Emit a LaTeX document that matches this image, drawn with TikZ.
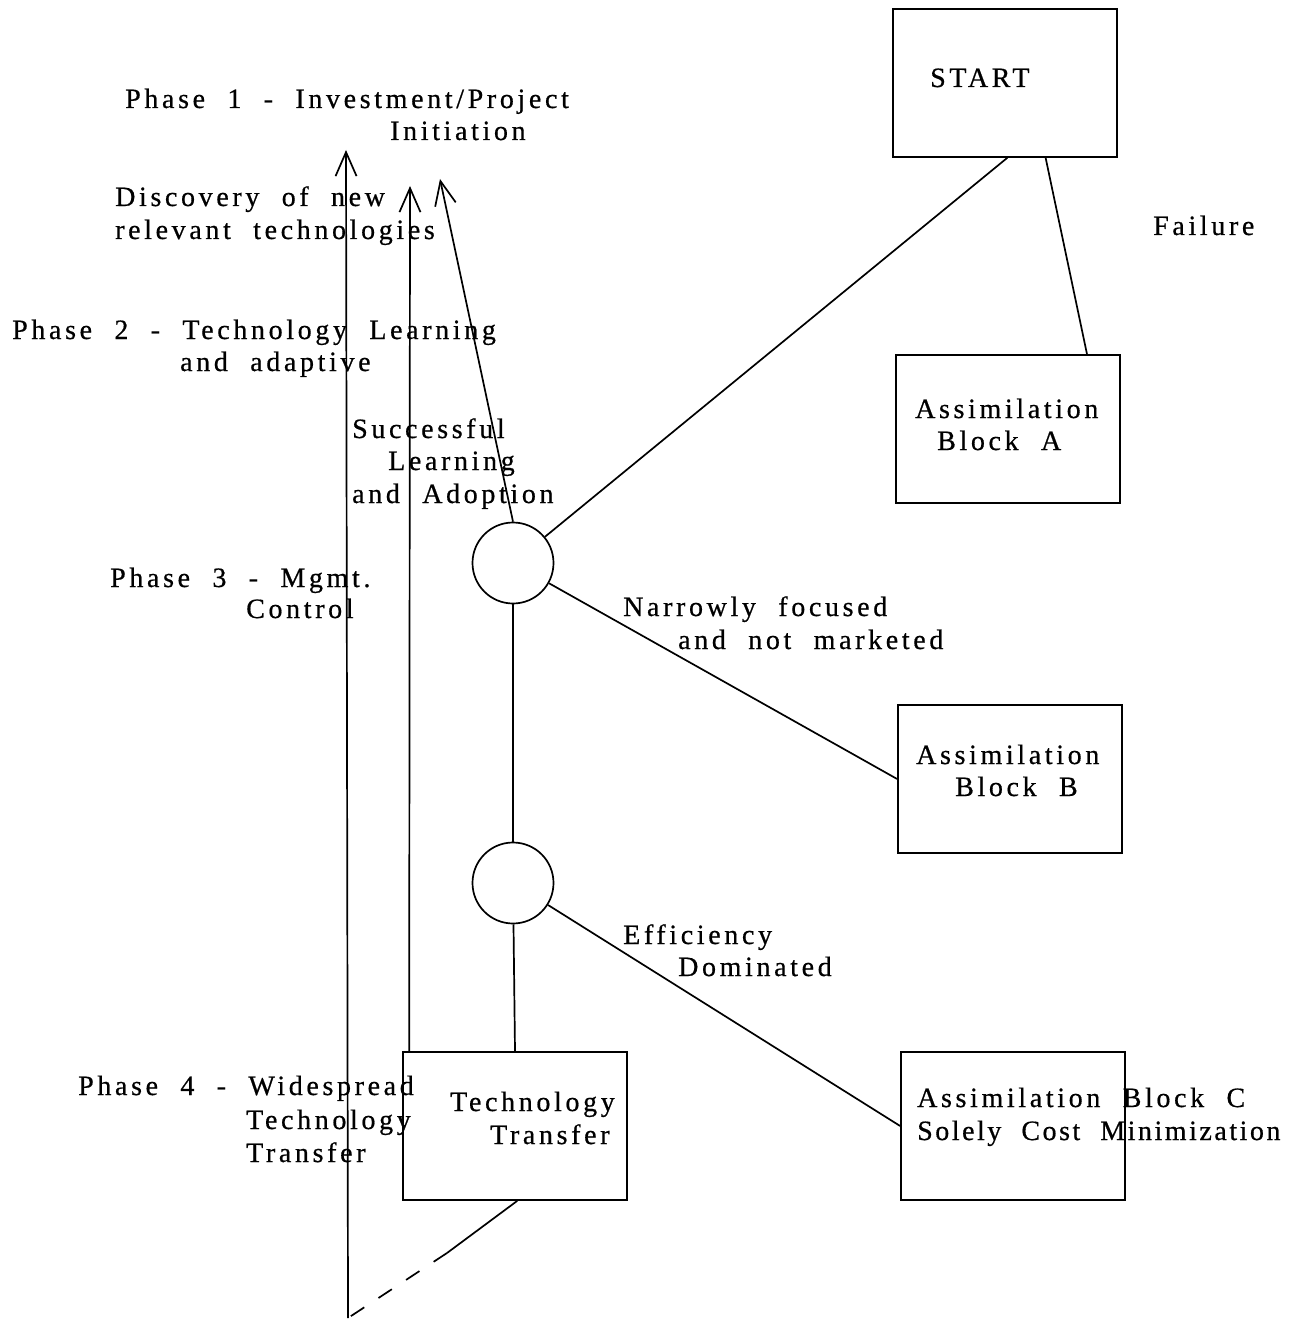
\documentclass[tikz,border=0pt]{standalone}
\usepackage{fontspec}
\setmainfont{Liberation Serif}[LetterSpace=13,WordSpace=2.1,FakeBold=0.6]
\usetikzlibrary{positioning}
\usetikzlibrary{arrows.meta}
\usetikzlibrary{calc}
\tikzstyle{block}=[rectangle,draw,line width=1.7pt,minimum width=224pt,minimum height=148pt,inner sep=0pt]
\tikzstyle{junction}=[circle,draw,line width=1.7pt,minimum size=81pt,inner sep=0pt]
\tikzstyle{link}=[draw,line width=1.7pt]
\tikzstyle{feedback}=[draw,line width=1.7pt,-{Straight Barb[length=24pt,width=21pt,line width=1.7pt]}]
\tikzstyle{phrase}=[font=\fontsize{28}{33}\selectfont,inner sep=0pt,anchor=base west]

\begin{document}
\begin{tikzpicture}[x=1pt,y=-1pt]
    \useasboundingbox (0,0) rectangle (1309,1321);
    % First the boxes and the two decision circles
    \foreach \pos/\name in {{(1005,83)/start}, {(1008,429)/blockA}, {(1010,779)/blockB}, {(1013,1126)/blockC}, {(515,1126)/transfer}}
        \node[block] (\name) at \pos {};
    \node[junction] (upper) at (513,563) {};
    \node[junction] (lower) at (513,883) {};

    % Free ends of the arrows
    \coordinate (bottom) at (348,1318);
    \coordinate (topA) at (346,150);
    \coordinate (topB) at (410,186);
    \coordinate (topC) at (440,179);
    \coordinate (gapend) at (447,1253);

    % Connect the boxes
    \path[link] ($(start.south west)!0.51!(start.south east)$) -- (upper);
    \path[link] ($(start.south west)!0.68!(start.south east)$) -- ($(blockA.north west)!0.85!(blockA.north east)$);
    \path[link] (upper) -- (blockB.west);
    \path[link] (upper) -- (lower);
    \path[link] (lower) -- (blockC.west);
    \path[link] (lower) -- (transfer.north);

    % Feedback arrows back to phase 1
    \path[feedback] (bottom) -- (topA);
    \path[feedback] ($(transfer.north west)+(7,0)$) -- (topB);
    \path[feedback] (upper.north) -- (topC);
    \path[link] ($(transfer.south west)!0.51!(transfer.south east)$) -- (gapend);
    \path[link, dash pattern=on 16pt off 17pt] (gapend) -- (bottom);

    % Then the texts, one line at a time
    \foreach \pos/\name/\txt in {{(930,87)/startT/START}, {(1153,235)/failT/Failure},
        {(915,418)/blockAa/Assimilation}, {(937,450)/blockAb/Block A},
        {(916,764)/blockBa/Assimilation}, {(955,796)/blockBb/Block B},
        {(917,1107)/blockCa/Assimilation Block C}, {(917,1140)/blockCb/{\addfontfeature{LetterSpace=9}Solely Cost Minimization}},
        {(450,1111)/transferA/Technology}, {(490,1144)/transferB/Transfer},
        {(125,108)/phaseOa/{Phase 1 - Investment/Project}}, {(390,140)/phaseOb/Initiation},
        {(115,206)/discA/Discovery of new}, {(115,239)/discB/relevant technologies},
        {(12,339)/phaseTa/Phase 2 - Technology Learning}, {(180,371)/phaseTb/and adaptive},
        {(352,438)/succA/Successful}, {(388,470)/succB/Learning}, {(352,503)/succC/and Adoption},
        {(110,587)/phaseHa/Phase 3 - Mgmt.}, {(246,618)/phaseHb/Control},
        {(623,616)/narrA/Narrowly focused}, {(678,649)/narrB/and not marketed},
        {(623,944)/effA/Efficiency}, {(678,976)/effB/Dominated},
        {(78,1095)/phaseFa/Phase 4 - Widespread}, {(246,1129)/phaseFb/Technology}, {(246,1162)/phaseFc/Transfer}}
        \node[phrase] (\name) at \pos {\txt};
\end{tikzpicture}
\end{document}
